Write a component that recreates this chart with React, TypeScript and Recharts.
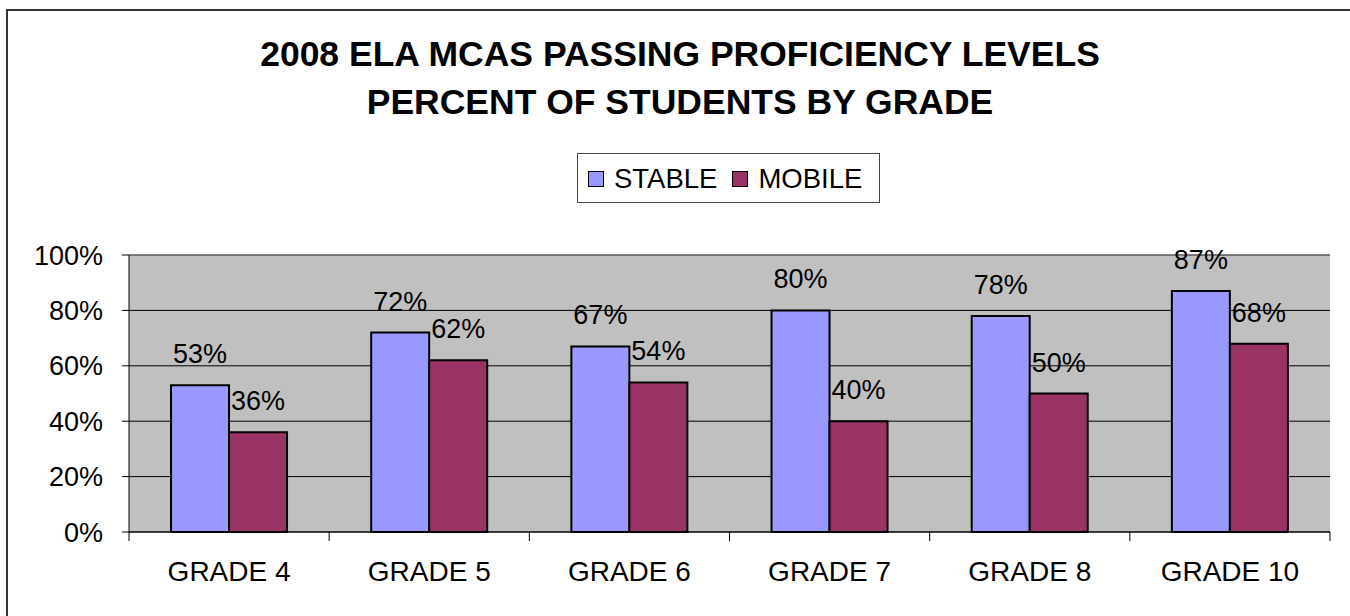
import { Bar, BarChart, CartesianGrid, LabelList, ReferenceLine, XAxis, YAxis } from "recharts";

const grades = ["GRADE 4", "GRADE 5", "GRADE 6", "GRADE 7", "GRADE 8", "GRADE 10"];
const stable = [53, 72, 67, 80, 78, 87];
const mobile = [36, 62, 54, 40, 50, 68];
const yTicks = [0, 20, 40, 60, 80, 100];

const series = [
  { key: "stable", name: "STABLE", color: "#9999FF" },
  { key: "mobile", name: "MOBILE", color: "#993366" },
];

const data = grades.map((g, i) => ({ grade: g, stable: stable[i], mobile: mobile[i] }));

const W = 1350;
const H = 616;
const M = { top: 255, right: 20, bottom: 24, left: 0 };
const Y_W = 129;
const PLOT_W = W - M.left - M.right - Y_W;
const BAND = PLOT_W / grades.length;
const X_TICK = 9;
const X_MARGIN = 20;
const FONT = 27;

const GradeTick = (props: any) => {
  const { x, y, payload, index } = props;
  const axisY = y - X_TICK - X_MARGIN;
  const half = BAND / 2;
  return (
    <g>
      <line x1={x - half} y1={axisY} x2={x - half} y2={axisY + X_TICK} stroke="#000" />
      {index === grades.length - 1 && (
        <line x1={x + half} y1={axisY} x2={x + half} y2={axisY + X_TICK} stroke="#000" />
      )}
      <text x={x} y={y} dy="0.71em" textAnchor="middle" fontSize={28} fill="#000">
        {payload.value}
      </text>
    </g>
  );
};

export default function App() {
  return (
    <div
      style={{
        position: "absolute",
        left: 0,
        top: 0,
        width: W,
        height: H,
        overflow: "hidden",
        background: "#fff",
        fontFamily: "'Liberation Sans', Arial, sans-serif",
      }}
    >
      {/* chart frame, only top and left edges fall inside the picture */}
      <div
        style={{
          position: "absolute",
          left: 6,
          top: 9,
          width: W + 40,
          height: H + 40,
          border: "2px solid #333",
        }}
      />
      <div
        style={{
          position: "absolute",
          left: 0,
          top: 30,
          width: 1360,
          textAlign: "center",
          fontWeight: "bold",
          fontSize: 35.5,
          lineHeight: "48px",
          color: "#000",
        }}
      >
        2008 ELA MCAS PASSING PROFICIENCY LEVELS
        <br />
        PERCENT OF STUDENTS BY GRADE
      </div>
      <div
        style={{
          position: "absolute",
          left: 577,
          top: 153,
          width: 303,
          height: 50,
          boxSizing: "border-box",
          border: "1px solid #444",
          display: "flex",
          alignItems: "center",
          paddingLeft: 10,
          paddingTop: 1,
          fontSize: 27.5,
          color: "#000",
        }}
      >
        {series.map((s, i) => (
          <div key={s.key} style={{ display: "flex", alignItems: "center", marginRight: i === 0 ? 15 : 0 }}>
            <span
              style={{
                display: "inline-block",
                width: 14,
                height: 14,
                background: s.color,
                border: "1px solid #000",
                marginRight: 10,
              }}
            />
            <span>{s.name}</span>
          </div>
        ))}
      </div>
      <div style={{ position: "absolute", left: 0, top: 0 }}>
        <BarChart width={W} height={H} data={data} margin={M} barCategoryGap="21%" barGap={0}>
          <CartesianGrid vertical={false} fill="#C0C0C0" fillOpacity={1} stroke="#000" />
          <XAxis
            dataKey="grade"
            height={60}
            axisLine={{ stroke: "#000" }}
            tickLine={{ stroke: "none" }}
            tickSize={X_TICK}
            tickMargin={X_MARGIN}
            tick={<GradeTick />}
            interval={0}
          />
          <YAxis
            width={Y_W}
            domain={[0, 100]}
            ticks={yTicks}
            tickFormatter={(v: number) => `${v}%`}
            axisLine={{ stroke: "#000" }}
            tickLine={{ stroke: "#000" }}
            tickSize={7}
            tickMargin={19}
            tick={{ fontSize: FONT, fill: "#000" }}
          />
          <YAxis
            yAxisId="right"
            orientation="right"
            width={0}
            domain={[0, 100]}
            tick={false}
            tickLine={false}
            axisLine={{ stroke: "#808080" }}
          />
          <ReferenceLine y={100} stroke="#808080" />
          {series.map((s) => (
            <Bar
              key={s.key}
              dataKey={s.key}
              name={s.name}
              fill={s.color}
              stroke="#000"
              strokeWidth={2}
              isAnimationActive={false}
            >
              <LabelList
                dataKey={s.key}
                position="top"
                offset={22}
                formatter={(v: any) => `${v}%`}
                fill="#000"
                fontSize={FONT}
              />
            </Bar>
          ))}
        </BarChart>
      </div>
    </div>
  );
}
